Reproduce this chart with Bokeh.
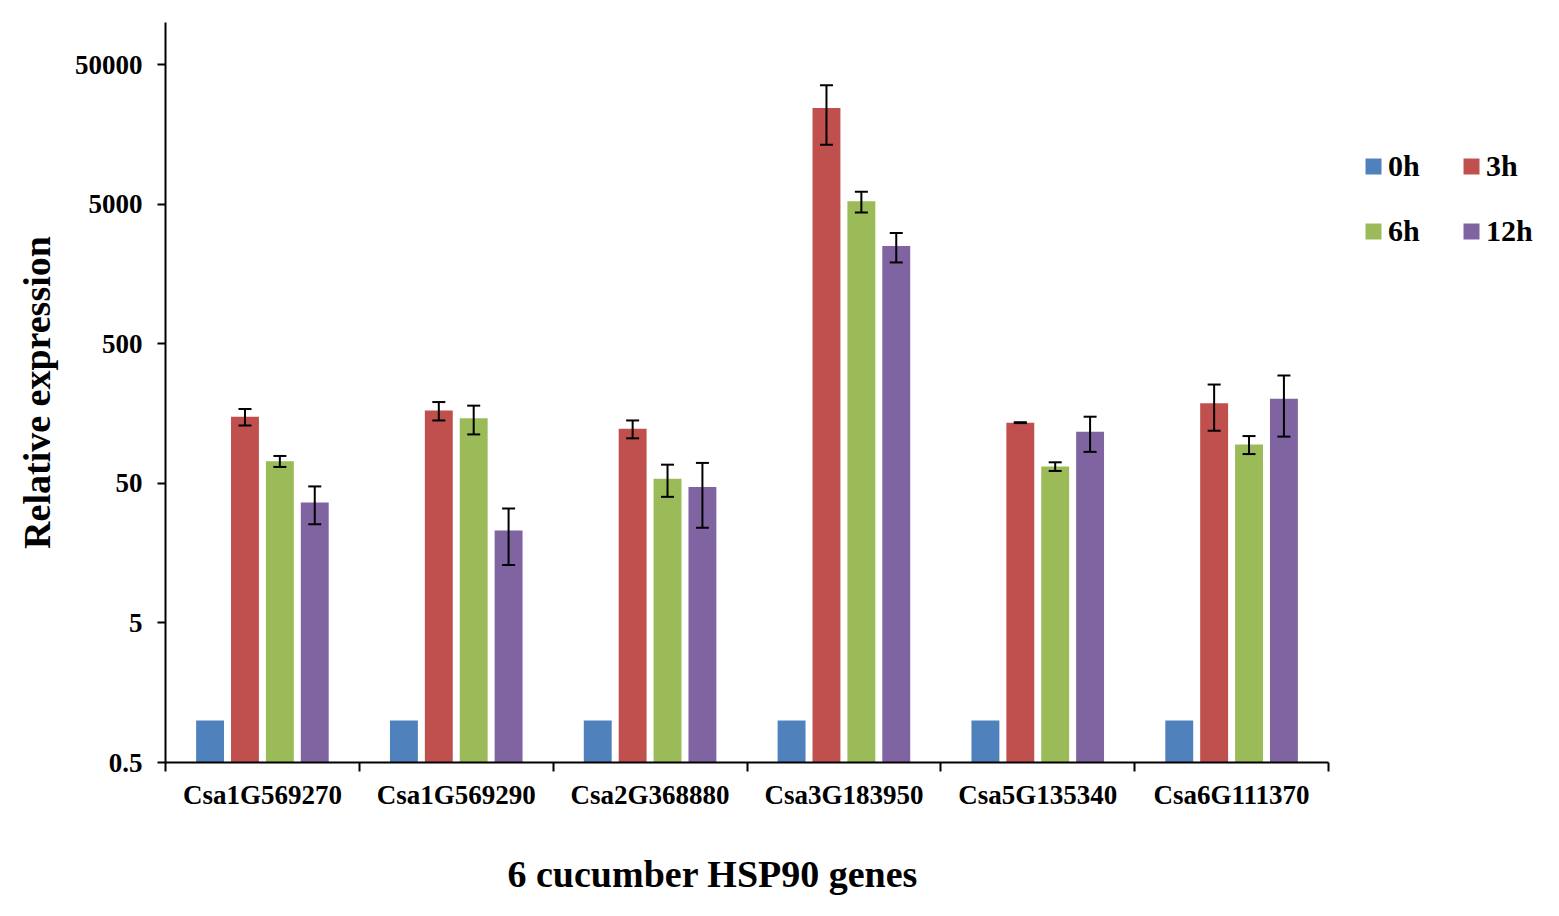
import numpy as np
from bokeh.plotting import figure
from bokeh.models import (ColumnDataSource, Range1d, FixedTicker, Whisker, TeeHead,
                          Legend, LegendItem, Title)
from bokeh.transform import dodge
from bokeh.embed import file_html
from bokeh.resources import INLINE

genes = ["Csa1G569270", "Csa1G569290", "Csa2G368880", "Csa3G183950", "Csa5G135340", "Csa6G111370"]
series = ["0h", "3h", "6h", "12h"]
h0 = [1, 1, 1, 1, 1, 1]
h3 = [150, 166, 123, 24400, 136, 187]
h6 = [72, 146, 54, 5240, 66, 95]
h12 = [36.5, 23, 47, 2510, 117, 202]
e3 = [20, 25, 18, 11100, 1, 68]
e6 = [6.5, 34, 14, 880, 4.7, 14]
e12 = [11, 10, 23, 600, 33, 94]
y_ticks = [0.5, 5, 50, 500, 5000, 50000]
y_tick_labels = ["0.5", "5", "50", "500", "5000", "50000"]
colors = ["#4F81BD", "#C0504D", "#9BBB59", "#8064A2"]

FONT = "Liberation Serif"

# layout (pixels)
W, H = 1543, 900
LEFT, RIGHT, TOP, BOTTOM = 165, 8, 22, 138
AXIS_PX = 1163  # pixel length of the drawn x axis (6 groups)
n = len(genes)
x_end = n * (W - LEFT - RIGHT) / AXIS_PX

xc = np.arange(n) + 0.5
src = ColumnDataSource(dict(
    xc=xc, h0=h0, h3=h3, h6=h6, h12=h12,
    u3=np.array(h3) + np.array(e3), l3=np.array(h3) - np.array(e3),
    u6=np.array(h6) + np.array(e6), l6=np.array(h6) - np.array(e6),
    u12=np.array(h12) + np.array(e12), l12=np.array(h12) - np.array(e12),
))

p = figure(width=W, height=H, y_axis_type="log",
           x_range=Range1d(0, x_end), y_range=Range1d(0.5, 100000),
           output_backend="svg", toolbar_location=None,
           min_border_left=LEFT, min_border_right=RIGHT, min_border_top=TOP, min_border_bottom=BOTTOM)
p.outline_line_color = None
p.xgrid.visible = False
p.ygrid.visible = False

offsets = [-0.27, -0.09, 0.09, 0.27]
cols = ["h0", "h3", "h6", "h12"]
renderers = []
for c, off, col in zip(cols, offsets, colors):
    r = p.vbar(x=dodge("xc", off, range=p.x_range), top=c, bottom=0.5, width=0.144,
               source=src, fill_color=col, line_color=None)
    renderers.append(r)

for key, off in zip(["3", "6", "12"], offsets[1:]):
    w = Whisker(source=src, base=dodge("xc", off, range=p.x_range), upper="u" + key, lower="l" + key,
                line_color="black", line_width=2, level="overlay",
                upper_head=TeeHead(size=13, line_width=2, line_color="black"),
                lower_head=TeeHead(size=13, line_width=2, line_color="black"))
    p.add_layout(w)

# x axis
xa = p.xaxis[0]
xa.bounds = (0, n)
xa.ticker = FixedTicker(ticks=list(xc), minor_ticks=list(range(n + 1)))
xa.major_label_overrides = {float(x): g for x, g in zip(xc, genes)}
xa.major_tick_line_color = None
xa.major_tick_out = 0
xa.major_tick_in = 0
xa.minor_tick_out = 9
xa.minor_tick_in = 0
xa.minor_tick_line_width = 2
xa.minor_tick_line_color = "black"
xa.axis_line_width = 2
xa.axis_line_color = "black"
xa.major_label_text_font = FONT
xa.major_label_text_font_style = "bold"
xa.major_label_text_font_size = "27px"
xa.major_label_text_color = "black"
xa.major_label_standoff = 8

p.add_layout(Title(text="6 cucumber HSP90 genes", align="left", offset=342, standoff=8,
                   vertical_align="bottom", padding=(0, 0, 34, 0),
                   text_font=FONT, text_font_style="bold", text_font_size="38px",
                   text_color="black"), "below")

# y axis
ya = p.yaxis[0]
ya.ticker = FixedTicker(ticks=y_ticks, minor_ticks=[])
ya.major_label_overrides = {t: s for t, s in zip(y_ticks, y_tick_labels)}
ya.major_tick_out = 8
ya.major_tick_in = 0
ya.major_tick_line_width = 2
ya.major_tick_line_color = "black"
ya.axis_line_width = 2
ya.axis_line_color = "black"
ya.major_label_text_font = FONT
ya.major_label_text_font_style = "bold"
ya.major_label_text_font_size = "27px"
ya.major_label_text_color = "black"
ya.major_label_standoff = 15
ya.axis_label = "Relative expression"
ya.axis_label_text_font = FONT
ya.axis_label_text_font_style = "bold"
ya.axis_label_text_font_size = "38px"
ya.axis_label_text_color = "black"
ya.axis_label_standoff = 14

items = [LegendItem(label=s, renderers=[r]) for s, r in zip(series, renderers)]
legend = Legend(items=items, orientation="horizontal", ncols=2,
                location=(1198, 506),
                glyph_width=20, glyph_height=20, label_standoff=5,
                label_width=58, label_height=50, spacing=15,
                padding=0, margin=0, border_line_color=None, background_fill_alpha=0,
                label_text_font=FONT, label_text_font_style="bold",
                label_text_font_size="30px", label_text_color="black")
p.add_layout(legend, "center")

open("out.html", "w").write(file_html(p, INLINE))
